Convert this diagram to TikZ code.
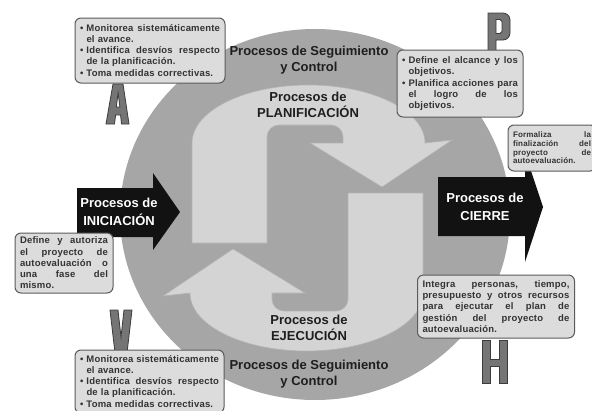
\documentclass[tikz,border=0pt]{standalone}
\usepackage{fontspec}
\setmainfont{Liberation Sans}
\newfontfamily\boxfont[LetterSpace=2]{Liberation Sans}
\definecolor{circgray}{HTML}{A6A6A6}
\definecolor{innergray}{HTML}{D4D4D4}
\definecolor{inneredge}{HTML}{B4B4B4}
\definecolor{boxfill}{HTML}{DCDCDC}
\definecolor{boxline}{HTML}{5A5A5A}
\definecolor{boxtext}{HTML}{333333}
\definecolor{titletext}{HTML}{1E1E1E}
\definecolor{letterfill}{HTML}{757575}
\definecolor{letteredge}{HTML}{3C3C3C}
\newcommand\bw{100pt}
\newcommand\jl[1]{\makebox[\bw][l]{#1}}
\newcommand\bul{\makebox[6.5pt][l]{\textbullet}}
\newcommand\ind{\hspace*{6.5pt}}
\tikzset{
  infobox/.style={draw=boxline, line width=1pt, fill=boxfill, rounded corners=6pt,
    inner xsep=5pt, inner ysep=0pt, align=left, text=boxtext,
    font=\boxfont\bfseries\fontsize{9.5}{10.8}\selectfont},
  title/.style={align=center, text=titletext, font=\bfseries\fontsize{13}{16.5}\selectfont, inner sep=0pt},
  arrowtitle/.style={align=center, text=white, font=\bfseries\fontsize{13}{18}\selectfont, inner sep=0pt},
  arrowshape/.style={fill=innergray, draw=inneredge, line width=0.6pt},
  bigarrow/.style={fill=black!93},
  letter/.style={fill=letterfill, draw=letteredge, line width=0.8pt, even odd rule}
}
\begin{document}
\begin{tikzpicture}[x=1pt, y=-1pt]
\useasboundingbox (0,0) rectangle (592,410);
% big circle
\fill[circgray] (315,214.5) ellipse [x radius=195pt, y radius=185.5pt];
% the two curved arrows
\foreach \r in {0,180}{
  \path[arrowshape, rotate around={\r:(307.5,218)}]
    (192,243) -- (192,143)
    arc[start angle=180, end angle=0, x radius=116.5pt, y radius=58pt]
    -- (452,140) -- (382,187) -- (310,143) -- (343,143) -- (343,137)
    arc[start angle=0, end angle=90, radius=12pt]
    -- (279,125)
    arc[start angle=90, end angle=180, radius=12pt]
    -- (267,243) -- cycle;
}
% titles
\node[title] (segtop) at (309,60) {Procesos de Seguimiento\\y Control};
\node[title] (segbot) at (309,374) {Procesos de Seguimiento\\y Control};
\node[title] (plan) at (308,105) {Procesos de\\PLANIFICACIÓN};
\node[title] (ejec) at (309,328) {Procesos de\\EJECUCIÓN};
% black arrows
\fill[bigarrow] (77,188) -- (153,188) -- (153,173) -- (180,212) -- (153,250) -- (153,237) -- (77,237) -- cycle;
\node[arrowtitle] (inic) at (119,212) {Procesos de\\INICIACIÓN};
\fill[bigarrow] (438,177) -- (525,177) -- (525,153) -- (543,207) -- (525,262) -- (525,236) -- (438,236) -- cycle;
\node[arrowtitle] (cierre) at (485,207) {Procesos de\\CIERRE};
% letters
\path[letter] (106,124) -- (113,84) -- (123,84) -- (129,124) -- (121.5,124) -- (120.6,115) -- (115.6,115) -- (114.5,124) -- cycle
  (116.3,107) -- (118.1,93) -- (119.9,107) -- cycle;
\path[letter] (110,310) -- (118,310) -- (121,337) -- (124,310) -- (132,310) -- (127,353) -- (115,353) -- cycle;
\path[letter] (488,56) -- (488,13) -- (503,13) arc[start angle=90, end angle=0, radius=7pt] -- (510,33) arc[start angle=0, end angle=-90, radius=7pt] -- (496,40) -- (496,56) -- cycle
  (496,19.5) -- (500,19.5) -- (502,21.5) -- (502,31.5) -- (500,33.5) -- (496,33.5) -- cycle;
\path[letter] (482,340) -- (490,340) -- (490,359) -- (499,359) -- (499,340) -- (507,340) -- (507,383) -- (499,383) -- (499,366) -- (490,366) -- (490,383) -- (482,383) -- cycle;
% boxes
\node[infobox, text width=140pt, minimum height=65pt] (boxA) at (150,50.5) {\renewcommand\bw{140pt}%
\jl{\bul Monitorea\hfill sistemáticamente}\\
\ind el avance.\\[1pt]
\jl{\bul Identifica\hfill desvíos\hfill respecto}\\
\ind de la planificación.\\[1pt]
\bul Toma medidas correctivas.};
\node[infobox, text width=116pt, minimum height=67pt] (boxP) at (460,83.5) {\renewcommand\bw{116pt}%
\jl{\bul Define\hfill el\hfill alcance\hfill y\hfill los}\\
\ind objetivos.\\[1pt]
\jl{\bul Planifica\hfill acciones\hfill para}\\
\jl{\ind el\hfill logro\hfill de\hfill los}\\
\ind objetivos.};
\node[infobox, text width=88pt, minimum height=60pt, font=\boxfont\bfseries\fontsize{9.5}{11.3}\selectfont] (boxI) at (64,263) {\renewcommand\bw{88pt}%
\jl{Define\hfill y\hfill autoriza}\\
\jl{el\hfill proyecto\hfill de}\\
\jl{autoevaluación\hfill o}\\
\jl{una\hfill fase\hfill del}\\
mismo.};
\node[infobox, text width=78pt, minimum height=46pt, font=\boxfont\bfseries\fontsize{8}{8.6}\selectfont] (boxC) at (552,148) {\renewcommand\bw{78pt}%
\jl{Formaliza\hfill la}\\
\jl{finalización\hfill del}\\
\jl{proyecto\hfill de}\\
autoevaluación.};
\node[infobox, text width=147pt, minimum height=63pt, font=\boxfont\bfseries\fontsize{9.5}{11.3}\selectfont] (boxH) at (496,306.5) {\renewcommand\bw{147pt}%
\jl{Integra\hfill personas,\hfill tiempo,}\\
\jl{presupuesto\hfill y\hfill otros\hfill recursos}\\
\jl{para\hfill ejecutar\hfill el\hfill plan\hfill de}\\
\jl{gestión\hfill del\hfill proyecto\hfill de}\\
autoevaluación.};
\node[infobox, text width=139pt, minimum height=63pt] (boxV) at (149.5,381.5) {\renewcommand\bw{139pt}%
\jl{\bul Monitorea\hfill sistemáticamente}\\
\ind el avance.\\[1pt]
\jl{\bul Identifica\hfill desvíos\hfill respecto}\\
\ind de la planificación.\\[1pt]
\bul Toma medidas correctivas.};
\end{tikzpicture}
\end{document}
